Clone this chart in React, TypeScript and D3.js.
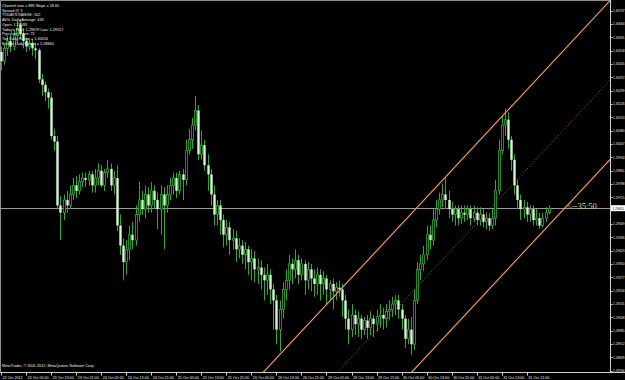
import React from "react";
import * as d3 from "d3";

const opens = [1.3051,1.3046,1.3053,1.3057,1.3054,1.3060,1.3066,1.3061,1.3057,1.3054,
1.3056,1.3053,1.3052,1.3036,1.3033,1.3029,1.3026,1.3005,1.3002,1.2967,
1.2963,1.2970,1.2967,1.2973,1.2978,1.2975,1.2980,1.2982,1.2981,1.2984,
1.2978,1.2982,1.2986,1.2978,1.2985,1.2987,1.2978,1.2982,1.2956,1.2945,
1.2936,1.2943,1.2951,1.2948,1.2962,1.2970,1.2965,1.2973,1.2967,1.2975,
1.2970,1.2965,1.2973,1.2967,1.2973,1.2978,1.2982,1.2975,1.2984,1.2981,
1.2997,1.3003,1.3011,1.3019,1.2995,1.3000,1.2989,1.2984,1.2973,1.2962,
1.2967,1.2959,1.2951,1.2955,1.2948,1.2949,1.2943,1.2945,1.2940,1.2943,
1.2936,1.2938,1.2932,1.2933,1.2929,1.2926,1.2929,1.2921,1.2915,1.2899,
1.2910,1.2921,1.2926,1.2935,1.2932,1.2937,1.2929,1.2935,1.2926,1.2932,
1.2927,1.2924,1.2929,1.2924,1.2927,1.2921,1.2924,1.2920,1.2922,1.2921,
1.2915,1.2905,1.2899,1.2907,1.2902,1.2905,1.2899,1.2904,1.2900,1.2905,
1.2902,1.2906,1.2907,1.2905,1.2909,1.2910,1.2913,1.2915,1.2910,1.2905,
1.2894,1.2899,1.2891,1.2915,1.2932,1.2935,1.2940,1.2951,1.2948,1.2959,
1.2965,1.2970,1.2973,1.2970,1.2965,1.2962,1.2965,1.2960,1.2963,1.2962,
1.2965,1.2960,1.2963,1.2959,1.2962,1.2958,1.2960,1.2956,1.2960,1.2975,
1.2997,1.3011,1.3014,1.3003,1.2992,1.2978,1.2970,1.2965,1.2966,1.2962,
1.2965,1.2959,1.2960,1.2956,1.2960,1.2963];

const highs = [1.3054,1.3055,1.3060,1.3061,1.3063,1.3068,1.3069,1.3064,1.3059,1.3058,
1.3058,1.3056,1.3053,1.3039,1.3035,1.3031,1.3029,1.3009,1.3005,1.2972,
1.2973,1.2975,1.2978,1.2982,1.2983,1.2984,1.2985,1.2985,1.2986,1.2986,
1.2987,1.2990,1.2989,1.2987,1.2992,1.2990,1.2986,1.2989,1.2962,1.2949,
1.2948,1.2956,1.2958,1.2967,1.2980,1.2975,1.2978,1.2977,1.2980,1.2978,
1.2974,1.2978,1.2977,1.2978,1.2982,1.2985,1.2985,1.2986,1.2987,1.3003,
1.3009,1.3015,1.3027,1.3022,1.3008,1.3003,1.2995,1.2987,1.2978,1.2970,
1.2970,1.2962,1.2959,1.2958,1.2954,1.2953,1.2949,1.2948,1.2947,1.2945,
1.2943,1.2942,1.2938,1.2937,1.2933,1.2935,1.2932,1.2924,1.2918,1.2915,
1.2925,1.2932,1.2940,1.2938,1.2943,1.2940,1.2938,1.2937,1.2936,1.2935,
1.2932,1.2933,1.2932,1.2931,1.2929,1.2926,1.2927,1.2925,1.2926,1.2924,
1.2918,1.2910,1.2913,1.2910,1.2909,1.2907,1.2906,1.2907,1.2909,1.2907,
1.2910,1.2913,1.2911,1.2913,1.2915,1.2917,1.2918,1.2918,1.2913,1.2907,
1.2905,1.2906,1.2921,1.2936,1.2940,1.2945,1.2956,1.2956,1.2965,1.2970,
1.2974,1.2979,1.2982,1.2975,1.2969,1.2967,1.2967,1.2967,1.2967,1.2967,
1.2967,1.2967,1.2966,1.2966,1.2965,1.2963,1.2963,1.2965,1.2981,1.3003,
1.3016,1.3020,1.3018,1.3005,1.2995,1.2981,1.2973,1.2970,1.2969,1.2967,
1.2967,1.2965,1.2963,1.2963,1.2966,1.2967];

const lows = [1.3041,1.3044,1.3049,1.3051,1.3052,1.3056,1.3058,1.3053,1.3051,1.3052,
1.3049,1.3047,1.3034,1.3027,1.3024,1.3020,1.3003,1.2997,1.2965,1.2948,
1.2959,1.2963,1.2965,1.2970,1.2971,1.2973,1.2977,1.2977,1.2978,1.2974,
1.2974,1.2978,1.2977,1.2975,1.2982,1.2975,1.2973,1.2953,1.2940,1.2926,
1.2929,1.2937,1.2943,1.2945,1.2958,1.2962,1.2960,1.2963,1.2963,1.2965,
1.2954,1.2951,1.2943,1.2963,1.2970,1.2973,1.2971,1.2973,1.2970,1.2978,
1.2995,1.2998,1.3008,1.2992,1.2992,1.2986,1.2975,1.2967,1.2956,1.2956,
1.2951,1.2944,1.2945,1.2940,1.2943,1.2936,1.2938,1.2935,1.2932,1.2929,
1.2926,1.2925,1.2924,1.2921,1.2915,1.2918,1.2913,1.2899,1.2891,1.2887,
1.2905,1.2915,1.2921,1.2924,1.2927,1.2924,1.2926,1.2918,1.2921,1.2920,
1.2917,1.2918,1.2915,1.2918,1.2913,1.2915,1.2910,1.2915,1.2917,1.2906,
1.2899,1.2891,1.2895,1.2896,1.2895,1.2894,1.2896,1.2894,1.2896,1.2895,
1.2898,1.2900,1.2899,1.2900,1.2904,1.2906,1.2907,1.2905,1.2899,1.2889,
1.2891,1.2885,1.2888,1.2913,1.2926,1.2931,1.2937,1.2943,1.2945,1.2955,
1.2962,1.2966,1.2965,1.2960,1.2958,1.2956,1.2956,1.2957,1.2958,1.2959,
1.2956,1.2958,1.2956,1.2956,1.2955,1.2954,1.2953,1.2954,1.2956,1.2973,
1.2995,1.3005,1.2998,1.2986,1.2973,1.2965,1.2959,1.2960,1.2958,1.2958,
1.2956,1.2956,1.2954,1.2955,1.2958,1.2962];

const closes = [1.3046,1.3053,1.3057,1.3054,1.3060,1.3064,1.3061,1.3057,1.3054,1.3056,
1.3053,1.3052,1.3036,1.3033,1.3029,1.3026,1.3005,1.3002,1.2967,1.2963,
1.2970,1.2967,1.2973,1.2978,1.2975,1.2980,1.2982,1.2981,1.2984,1.2978,
1.2982,1.2986,1.2978,1.2985,1.2987,1.2978,1.2982,1.2956,1.2945,1.2936,
1.2943,1.2951,1.2948,1.2962,1.2970,1.2965,1.2973,1.2967,1.2975,1.2970,
1.2965,1.2973,1.2967,1.2973,1.2978,1.2982,1.2975,1.2984,1.2981,1.2997,
1.3003,1.3011,1.3019,1.2995,1.3000,1.2989,1.2984,1.2973,1.2962,1.2967,
1.2959,1.2951,1.2955,1.2948,1.2949,1.2943,1.2945,1.2940,1.2943,1.2936,
1.2938,1.2932,1.2933,1.2929,1.2926,1.2929,1.2921,1.2915,1.2899,1.2910,
1.2921,1.2926,1.2935,1.2932,1.2937,1.2929,1.2935,1.2926,1.2932,1.2927,
1.2924,1.2929,1.2924,1.2927,1.2921,1.2924,1.2920,1.2922,1.2921,1.2915,
1.2905,1.2899,1.2907,1.2902,1.2905,1.2899,1.2904,1.2900,1.2905,1.2902,
1.2906,1.2907,1.2905,1.2909,1.2910,1.2913,1.2915,1.2910,1.2905,1.2894,
1.2899,1.2891,1.2915,1.2932,1.2935,1.2940,1.2951,1.2948,1.2959,1.2965,
1.2970,1.2973,1.2970,1.2965,1.2962,1.2965,1.2960,1.2963,1.2962,1.2965,
1.2960,1.2963,1.2959,1.2962,1.2958,1.2960,1.2956,1.2960,1.2975,1.2997,
1.3011,1.3014,1.3003,1.2992,1.2978,1.2970,1.2965,1.2966,1.2962,1.2965,
1.2959,1.2960,1.2956,1.2960,1.2963,1.29655];

const currentPrice = 1.29655;
const countdownLabel = "<--35:50";

const priceTicks = [1.30737,1.30664,1.30591,1.30518,1.30445,1.30372,1.30299,1.30226,1.30153,1.30080,
1.30007,1.29934,1.29861,1.29788,1.29715,1.29569,1.29496,1.29423,1.29350,1.29277,
1.29204,1.29131,1.29058,1.28985,1.28912,1.28839,1.28766];

const timeTickBars = [0,8,16,24,32,40,48,56,64,72,80,88,96,104,112,120,128,136,144,152,160,168];
const timeTickLabels = ["22 Oct 2012","23 Oct 05:00","23 Oct 13:00","23 Oct 21:00","24 Oct 05:00","24 Oct 13:00",
"24 Oct 21:00","25 Oct 05:00","25 Oct 13:00","25 Oct 21:00","26 Oct 05:00","26 Oct 13:00","26 Oct 21:00",
"29 Oct 05:00","29 Oct 13:00","29 Oct 21:00","30 Oct 05:00","30 Oct 13:00","30 Oct 21:00","31 Oct 05:00",
"31 Oct 13:00","31 Oct 21:00"];

// channel: upper line anchors (bar, price), channel width in price
const channelBars = [84, 194];
const channelUpperPrices = [1.2876, 1.3078];
const channelWidth = 0.0087;

const infoLines = [
  "Channel size = 889 Slope = 18.60",
  "Spread @ 3",
  "TODAYS RANGE: 162",
  "AVG. Daily Average: 433",
  "Open: 1.29583",
  "Today's High: 1.29679  Low: 1.29517",
  "Pips from Open: 72",
  "Top Daily Range = 1.30054",
  "Bottom Daily Range = 1.28840",
];
const copyright = "MetaTrader, \u00A9 2001-2012, MetaQuotes Software Corp.";

const W = 625, H = 380;
const PR = 610, PB = 372;
const GREEN = "#36a336";
const PALE = "#d2f7d2";
const ORANGE = "#ee9a4c";
const FONT = "'Liberation Sans', Arial, sans-serif";

export default function App() {
  const x = d3.scaleLinear().domain([0, 194.6]).range([1, PR]);
  const y = d3.scaleLinear().domain([1.28758, 1.30795]).range([PB, 0]);

  const slope = (channelUpperPrices[1] - channelUpperPrices[0]) / (channelBars[1] - channelBars[0]);
  const upper = (b: number) => channelUpperPrices[0] + (b - channelBars[0]) * slope;
  const bx0 = 40, bx1 = 220;
  const line = d3.line<[number, number]>().x(d => x(d[0])).y(d => y(d[1]));
  const chan = (off: number) => line([[bx0, upper(bx0) - off], [bx1, upper(bx1) - off]]) || "";

  const cy = y(currentPrice);
  const fmt = d3.format(".5f");

  return (
    <svg width={W} height={H} style={{ position: "fixed", left: 0, top: 0, background: "#000", display: "block" }}>
      <defs>
        <clipPath id="plot"><rect x={0} y={0} width={PR} height={PB} /></clipPath>
      </defs>
      <rect x={0} y={0} width={W} height={H} fill="#000" />
      {/* frame */}
      <line x1={0.5} y1={0.5} x2={PR} y2={0.5} stroke="#8c8c8c" />
      <line x1={0.5} y1={0.5} x2={0.5} y2={PB} stroke="#8c8c8c" />
      <line x1={0} y1={PB + 0.5} x2={W} y2={PB + 0.5} stroke="#d0d0d0" />
      <line x1={PR + 0.5} y1={0} x2={PR + 0.5} y2={PB} stroke="#d0d0d0" />

      <g clipPath="url(#plot)">
        {/* current price line */}
        <line x1={0} x2={PR} y1={Math.round(cy) + 0.5} y2={Math.round(cy) + 0.5} stroke="#9a9a9a" strokeWidth={1} />
        {closes.map((c, i) => {
          const o = opens[i];
          const cx = Math.round(x(i)) + 0.5;
          const bull = c >= o;
          const top = y(Math.max(o, c));
          const bot = y(Math.min(o, c));
          const h = Math.max(1, bot - top);
          return (
            <g key={i}>
              <line x1={cx} x2={cx} y1={y(highs[i])} y2={y(lows[i])} stroke={GREEN} strokeWidth={1} />
              {bull ? (
                <rect x={cx - 1} y={top} width={2} height={h} fill="#000" stroke={GREEN} strokeWidth={0.8} />
              ) : (
                <rect x={cx - 1.2} y={top} width={2.4} height={h} fill={PALE} />
              )}
            </g>
          );
        })}
        {/* channel */}
        <path d={chan(0)} stroke={ORANGE} strokeWidth={1.2} fill="none" />
        <path d={chan(channelWidth)} stroke={ORANGE} strokeWidth={1.2} fill="none" />
        <path d={chan(channelWidth / 2)} stroke="#a8672e" strokeWidth={1} strokeDasharray="1,2" fill="none" />
      </g>

      {/* info text */}
      {infoLines.map((t, i) => (
        <text key={i} x={2} y={7 + i * 4.7} fontSize={3.8} fill="#ececec" fontFamily={FONT}>{t}</text>
      ))}
      <text x={2} y={367} fontSize={3.8} fill="#ececec" fontFamily={FONT}>{copyright}</text>

      {/* countdown */}
      <text x={567} y={209} fontSize={8.5} fill="#dcd88a" fontFamily="'Liberation Serif', serif">{countdownLabel}</text>

      {/* price axis */}
      {priceTicks.map((p, i) => (
        <g key={i}>
          <line x1={PR} x2={PR + 2.5} y1={Math.round(y(p)) + 0.5} y2={Math.round(y(p)) + 0.5} stroke="#d0d0d0" />
          <text x={613} y={y(p) + 1.4} fontSize={3.6} fill="#e8e8e8" fontFamily={FONT}
            textLength={11.5} lengthAdjust="spacingAndGlyphs">{fmt(p)}</text>
        </g>
      ))}
      <rect x={611} y={cy - 3} width={14} height={6} fill="#ffffff" />
      <text x={612.5} y={cy + 1.4} fontSize={3.6} fill="#000" fontFamily={FONT}
        textLength={11.5} lengthAdjust="spacingAndGlyphs">{fmt(currentPrice)}</text>

      {/* time axis */}
      {timeTickBars.map((b, i) => (
        <g key={i}>
          <line x1={Math.round(x(b)) + 0.5} x2={Math.round(x(b)) + 0.5} y1={PB} y2={PB + 3.5} stroke="#d0d0d0" />
          <text x={x(b) + 1.5} y={378.5} fontSize={3.7} fill="#e8e8e8" fontFamily={FONT}>{timeTickLabels[i]}</text>
        </g>
      ))}
    </svg>
  );
}
